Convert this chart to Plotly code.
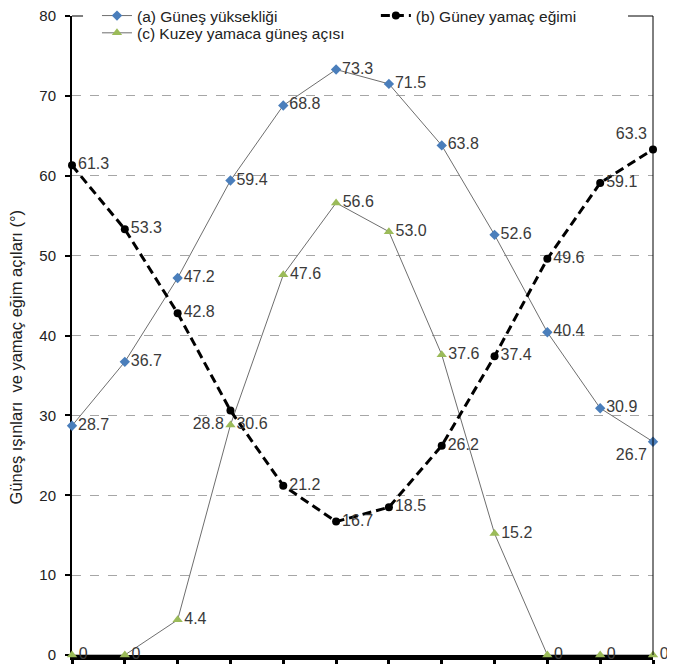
import plotly.graph_objects as go

months = list(range(12))
tick_labels = [""] * 12
sun_altitude = [28.7, 36.7, 47.2, 59.4, 68.8, 73.3, 71.5, 63.8, 52.6, 40.4, 30.9, 26.7]
south_slope = [61.3, 53.3, 42.8, 30.6, 21.2, 16.7, 18.5, 26.2, 37.4, 49.6, 59.1, 63.3]
north_angle = [0, 0, 4.4, 28.8, 47.6, 56.6, 53.0, 37.6, 15.2, 0, 0, 0]
y_ticks = [0, 10, 20, 30, 40, 50, 60, 70, 80]

name_a = "(a) Güneş yüksekliği"
name_b = "(b) Güney yamaç eğimi"
name_c = "(c) Kuzey yamaca güneş açısı"
y_title = "Güneş ışınları  ve yamaç eğim açıları (°)"

def fmt(v):
    return "0" if v == 0 else f"{v:.1f}"

font_family = "Liberation Sans, Arial, sans-serif"
txt_font = dict(family=font_family, size=16, color="#3a3a3a")

pos_a = ["middle right"] * 12
pos_a[11] = "bottom left"
pos_b = ["middle right"] * 12
pos_b[3] = "bottom right"
pos_b[11] = "top left"
pos_c = ["middle right"] * 12
pos_c[3] = "middle left"

fig = go.Figure()
fig.add_trace(go.Scatter(
    x=months, y=sun_altitude, name=name_a, mode="lines+markers+text",
    text=[fmt(v) for v in sun_altitude], textposition=pos_a, textfont=txt_font,
    line=dict(color="#6e6e6e", width=1),
    marker=dict(symbol="diamond", size=8, color="#4a7ebb"),
    cliponaxis=False, legend="legend",
))
fig.add_trace(go.Scatter(
    x=months, y=north_angle, name=name_c, mode="lines+markers+text",
    text=[fmt(v) for v in north_angle], textposition=pos_c, textfont=txt_font,
    line=dict(color="#6e6e6e", width=1),
    marker=dict(symbol="triangle-up", size=9, color="#9bbb59"),
    cliponaxis=False, legend="legend3",
))
fig.add_trace(go.Scatter(
    x=months, y=south_slope, name=name_b, mode="lines+markers+text",
    text=[fmt(v) for v in south_slope], textposition=pos_b, textfont=txt_font,
    line=dict(color="black", width=3, dash="9px,5px"),
    marker=dict(symbol="circle", size=8, color="black"),
    cliponaxis=False, legend="legend2",
))

leg_font = dict(family=font_family, size=15.5, color="#222")
leg_common = dict(xanchor="left", yanchor="middle", bgcolor="rgba(0,0,0,0)",
                  font=leg_font, itemwidth=30, borderwidth=0)

fig.update_layout(
    width=675, height=669,
    margin=dict(l=64, r=30, t=8, b=22, autoexpand=False),
    paper_bgcolor="white", plot_bgcolor="white",
    font=dict(family=font_family, size=15, color="#222"),
    showlegend=True,
    legend=dict(x=0.043, y=1.0, **leg_common),
    legend2=dict(x=0.523, y=1.0, **leg_common),
    legend3=dict(x=0.043, y=0.973, **leg_common),
    shapes=[
        dict(type="line", xref="paper", yref="paper", x0=0, x1=0.019, y0=1, y1=1,
             line=dict(color="black", width=1)),
        dict(type="line", xref="paper", yref="paper", x0=0.957, x1=1, y0=1, y1=1,
             line=dict(color="black", width=1)),
        dict(type="line", xref="paper", yref="paper", x0=1, x1=1, y0=0, y1=1,
             line=dict(color="black", width=1)),
    ],
    annotations=[
        dict(text=y_title, xref="paper", yref="paper", x=-0.096, y=0.466,
             textangle=-90, showarrow=False, xanchor="center", yanchor="middle",
             font=dict(family=font_family, size=16.5, color="#222")),
    ],
)
fig.update_xaxes(
    range=[0, 11], tickvals=months, ticktext=tick_labels,
    showgrid=False, zeroline=False,
    showline=True, linecolor="black", linewidth=5,
    ticks="outside", ticklen=4, tickwidth=3, tickcolor="black",
    layer="below traces", automargin=False,
)
fig.update_yaxes(
    range=[0, 80], tickvals=y_ticks,
    showgrid=True, gridcolor="#a6a6a6", griddash="dash", gridwidth=1,
    zeroline=False,
    showline=True, linecolor="black", linewidth=2, mirror=False,
    ticks="outside", ticklen=5, tickwidth=1.5, tickcolor="black",
    ticklabelstandoff=6, ticklabeloverflow="allow",
    tickfont=dict(size=15, color="#222"),
    layer="below traces", automargin=False,
)

fig.write_html("out.html")
